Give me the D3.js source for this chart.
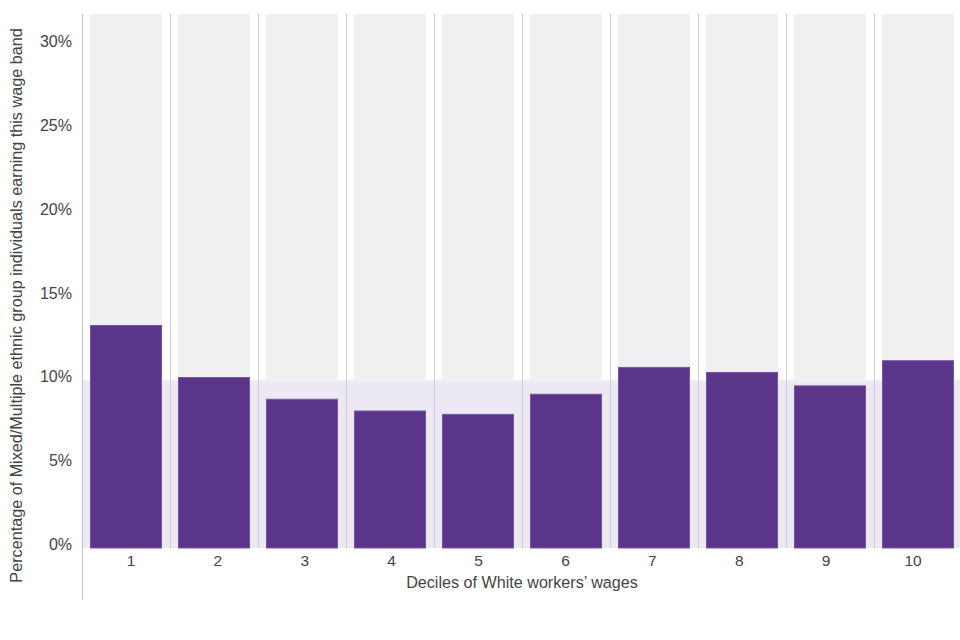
<!DOCTYPE html>
<html><head><meta charset="utf-8">
<script src="https://cdn.jsdelivr.net/npm/d3@7"></script>
<style>body{margin:0;background:#fff;} text{font-family:"Liberation Sans",Arial,sans-serif;}</style>
</head><body>
<svg id="c" width="960" height="640"></svg>
<script>
const deciles = ["1","2","3","4","5","6","7","8","9","10"];
const shares = [13.3, 10.2, 8.9, 8.2, 8.0, 9.2, 10.8, 10.5, 9.7, 11.2];
const populationShare = 10.0;
const yTicks = [0, 5, 10, 15, 20, 25, 30];
const xTitle = "Deciles of White workers\u2019 wages";
const yTitle = "Percentage of Mixed/Multiple ethnic group individuals earning this wage band";

(function () {
const svg = d3.select("#c");
const plotTop = 14, axisBottom = 600;
const x = d3.scaleBand().domain(deciles).range([82, 962]).paddingInner(16/88).paddingOuter(8/88);
const xLabel = d3.scaleBand().domain(deciles).range([87.5, 956.5]);
const y = d3.scaleLinear().domain([0, 30]).range([548, 45]);
const yTop = y.invert(plotTop);

// grey background columns
svg.append("g").selectAll("rect").data(deciles).join("rect")
  .attr("x", d => x(d)).attr("width", x.bandwidth())
  .attr("y", y(yTop)).attr("height", y(populationShare) - y(yTop))
  .attr("fill", "#f0f0f0");

// population share band
svg.append("rect")
  .attr("x", x.range()[0]).attr("width", x.range()[1] - x.range()[0])
  .attr("y", y(populationShare)).attr("height", y(0) - y(populationShare))
  .attr("fill", "#ece9f5");

// separators
const step = x.step();
svg.append("g").selectAll("line").data(deciles.slice(1)).join("line")
  .attr("x1", d => x(d) - (step - x.bandwidth())/2 + 0.5)
  .attr("x2", d => x(d) - (step - x.bandwidth())/2 + 0.5)
  .attr("y1", y(yTop)).attr("y2", y(0))
  .attr("stroke", "#cfcfcf").attr("stroke-width", 1);

// bars
svg.append("g").selectAll("rect").data(shares).join("rect")
  .attr("x", (d, i) => x(deciles[i]) + 0.5).attr("width", x.bandwidth() - 1)
  .attr("y", d => y(d) + 0.5).attr("height", d => y(0) - y(d) - 0.5)
  .attr("fill", "#5a358a").attr("stroke", "#7656a3").attr("stroke-width", 1);

// y axis line
svg.append("line").attr("x1", 82.5).attr("x2", 82.5).attr("y1", plotTop).attr("y2", axisBottom)
  .attr("stroke", "#c4c4c4");

// y tick labels
svg.append("g").selectAll("text").data(yTicks).join("text")
  .attr("x", 72).attr("y", d => y(d) - 3.5).attr("dy", "0.35em")
  .attr("text-anchor", "end").attr("font-size", 16).attr("fill", "#444")
  .text(d => d + "%");

// x tick labels
svg.append("g").selectAll("text").data(deciles).join("text")
  .attr("x", d => xLabel(d) + xLabel.bandwidth()/2).attr("y", 561).attr("dy", "0.35em")
  .attr("text-anchor", "middle").attr("font-size", 15.5).attr("fill", "#444")
  .text(d => d);

function fit(sel, target) {
  const len = sel.node().getComputedTextLength();
  const fs = +sel.attr("font-size");
  if (len > 0) sel.attr("font-size", fs * target / len);
}

// axis titles
const xt = svg.append("text").attr("x", 522).attr("y", 582).attr("dy", "0.35em")
  .attr("text-anchor", "middle").attr("font-size", 15).attr("fill", "#444").text(xTitle);
fit(xt, 232);
const yt = svg.append("text").attr("transform", "translate(16,305.5) rotate(-90)").attr("dy", "0.35em")
  .attr("text-anchor", "middle").attr("font-size", 15).attr("fill", "#444").text(yTitle);
fit(yt, 555);
})();
</script>
</body></html>
